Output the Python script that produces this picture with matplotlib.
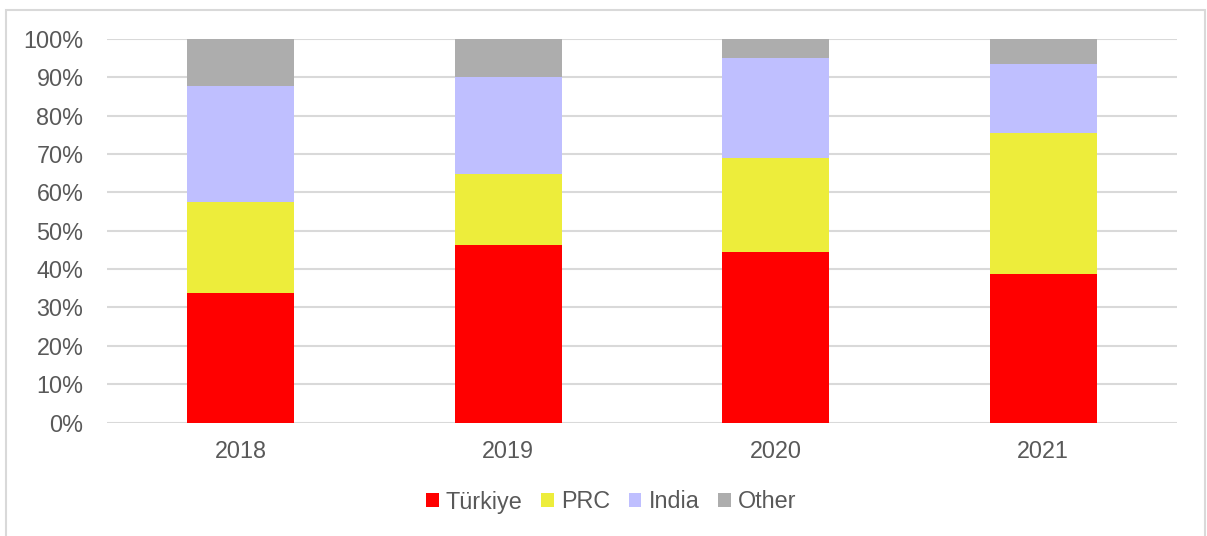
import matplotlib
matplotlib.use("Agg")
import matplotlib.pyplot as plt
from matplotlib.patches import Rectangle
import numpy as np

years = ["2018", "2019", "2020", "2021"]
turkiye = [33.7, 46.4, 44.5, 38.7]
prc = [23.8, 18.4, 24.4, 36.8]
india = [30.2, 25.2, 26.1, 17.9]
other = [12.3, 10.0, 5.0, 6.6]
series_names = ["Türkiye", "PRC", "India", "Other"]
colors = ["#FF0000", "#EDED3B", "#BFBFFF", "#ADADAD"]
yticks = list(range(0, 101, 10))

plt.rcParams['font.family'] = ['Liberation Sans', 'DejaVu Sans']
text_color = "#595959"
fs = 16.8

fig = plt.figure(figsize=(12.07, 5.36), dpi=100)
W, H = 1207, 536
ax = fig.add_axes([107 / W, 1 - 422.5 / H, (1177 - 107) / W, (422.5 - 39) / H])

x = np.arange(len(years))
bottom = np.zeros(len(years))
for name, vals, c in zip(series_names, [turkiye, prc, india, other], colors):
    ax.bar(x, vals, width=0.4, bottom=bottom, color=c, label=name, zorder=3)
    bottom += np.array(vals)

ax.set_xlim(-0.5, 3.5)
ax.set_ylim(0, 100)
ax.set_yticks(yticks)
ax.set_yticklabels([f"{v}%" for v in yticks])
ax.set_xticks(x)
ax.set_xticklabels(years)
ax.yaxis.grid(True, color="#D9D9D9", linewidth=1.5, zorder=0)
ax.set_axisbelow(True)
for s in ax.spines.values():
    s.set_visible(False)
ax.tick_params(axis='y', length=0, pad=17, labelsize=fs, labelcolor=text_color)
ax.tick_params(axis='x', length=0, pad=12.5, labelsize=fs, labelcolor=text_color)

# frame around the chart
fig.patches.append(Rectangle((6 / W, -0.05), (1205 - 6) / W, 1.05 - 9.5 / H,
                             transform=fig.transFigure, fill=False,
                             edgecolor="#D9D9D9", linewidth=1.5))

handles, labels = ax.get_legend_handles_labels()
leg = fig.legend(handles, labels, loc='center', bbox_to_anchor=(611 / W, 1 - 502 / H),
                 ncol=4, frameon=False, fontsize=fs, handlelength=0.55, handleheight=0.55,
                 handletextpad=0.3, columnspacing=0.8, labelcolor=text_color)

fig.savefig("out.png", dpi=100)
